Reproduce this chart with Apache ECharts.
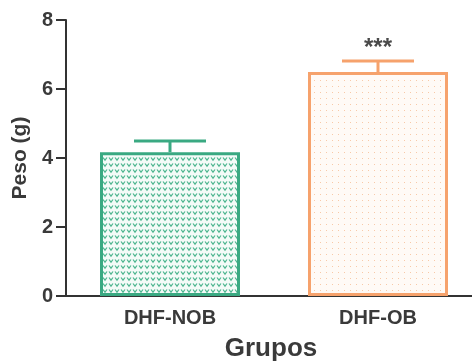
<!DOCTYPE html>
<html>
<head>
<meta charset="utf-8">
<style>
  html, body { margin: 0; padding: 0; background: #fff; }
  #chart { width: 472px; height: 362px; }
</style>
<script src="https://cdn.jsdelivr.net/npm/echarts@6/dist/echarts.min.js"></script>
</head>
<body>
<div id="chart"></div>
<script>
// Group names, mean body weight (g) and error (SEM)
const categories = ['DHF-NOB', 'DHF-OB'];
const means = [4.17, 6.49];
const errors = [0.32, 0.32];
const significance = ['', '***'];
const yTicks = [0, 2, 4, 6, 8];

const strokeColors = ['#3aa982', '#f6a26c'];

// Small tiled fills: green "v" marks and orange dots
function makePattern(kind) {
  const c = document.createElement('canvas');
  const ctx = c.getContext('2d');
  if (kind === 'v') {
    c.width = 6; c.height = 6;
    ctx.fillStyle = '#f4fbf8';
    ctx.fillRect(0, 0, 6, 6);
    ctx.strokeStyle = '#4db58f';
    ctx.lineWidth = 1.2;
    ctx.beginPath();
    ctx.moveTo(1, 1.5); ctx.lineTo(3, 4.2); ctx.lineTo(5, 1.5);
    ctx.stroke();
  } else {
    c.width = 6; c.height = 6;
    ctx.fillStyle = '#fffaf6';
    ctx.fillRect(0, 0, 6, 6);
    ctx.fillStyle = '#f8c9a8';
    ctx.fillRect(2, 2, 1, 1);
  }
  return { image: c, repeat: 'repeat' };
}
const fills = [makePattern('v'), makePattern('dot')];

const chart = echarts.init(document.getElementById('chart'), null, { renderer: 'canvas' });

const axisColor = '#333333';
const textColor = '#3a3a3a';
const font = 'Liberation Sans, Arial, sans-serif';

chart.setOption({
  animation: false,
  grid: { left: 66, width: 416, top: 20, height: 276, containLabel: false, outerBoundsMode: 'none' },
  xAxis: {
    type: 'category',
    data: categories,
    name: 'Grupos',
    nameLocation: 'middle',
    nameGap: 40,
    nameTextStyle: { fontFamily: font, fontWeight: 'bold', fontSize: 26, color: textColor, padding: [0, 6, 0, 0] },
    axisLine: { lineStyle: { color: axisColor, width: 2 } },
    axisTick: { alignWithLabel: true, length: 7, lineStyle: { color: axisColor, width: 2 } },
    axisLabel: { fontFamily: font, fontWeight: 'bold', fontSize: 20, color: textColor, margin: 12 }
  },
  yAxis: {
    type: 'value',
    min: yTicks[0],
    max: yTicks[yTicks.length - 1],
    interval: 2,
    name: 'Peso (g)',
    nameLocation: 'middle',
    nameGap: 34,
    nameTextStyle: { fontFamily: font, fontWeight: 'bold', fontSize: 21, color: textColor },
    axisLine: { show: true, lineStyle: { color: axisColor, width: 2 } },
    axisTick: { show: true, length: 10, lineStyle: { color: axisColor, width: 2 } },
    axisLabel: { fontFamily: font, fontWeight: 'bold', fontSize: 20, color: textColor, margin: 13 },
    splitLine: { show: false }
  },
  series: [
    {
      type: 'bar',
      barWidth: 140,
      data: means.map((v, i) => ({
        value: v,
        itemStyle: { color: fills[i], borderColor: strokeColors[i], borderWidth: 3 }
      })),
      z: 2
    },
    {
      // Error bars (upper whisker with cap) and significance marks
      type: 'custom',
      z: 3,
      data: means.map((v, i) => [i, v, v + errors[i]]),
      renderItem: function (params, api) {
        const i = api.value(0);
        const base = api.coord([i, api.value(1)]);
        const top = api.coord([i, api.value(2)]);
        const capHalf = 36;
        const style = { stroke: strokeColors[i], lineWidth: 3 };
        const children = [
          { type: 'line', shape: { x1: base[0], y1: base[1], x2: top[0], y2: top[1] }, style: style },
          { type: 'line', shape: { x1: top[0] - capHalf, y1: top[1], x2: top[0] + capHalf, y2: top[1] }, style: style }
        ];
        if (significance[i]) {
          children.push({
            type: 'text',
            style: {
              text: significance[i], x: top[0], y: top[1] - 1,
              align: 'center', verticalAlign: 'bottom',
              fill: '#4a4a4a', font: 'bold 24px ' + font
            }
          });
        }
        return { type: 'group', children: children };
      }
    }
  ]
});
</script>
</body>
</html>
